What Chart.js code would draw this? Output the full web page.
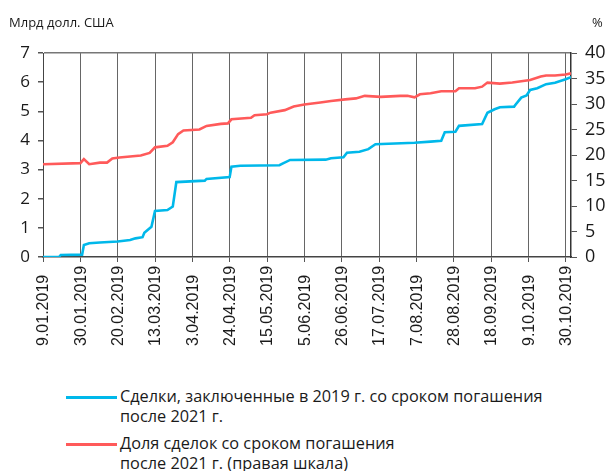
<!DOCTYPE html>
<html>
<head>
<meta charset="utf-8">
<script src="https://cdn.jsdelivr.net/npm/chart.js@4/dist/chart.umd.min.js"></script>
<style>
    body { margin: 0; background: #fff; }
    #wrap { position: relative; width: 606px; height: 471px; font-family: "Open Sans", sans-serif; color: #1a1a1a; }
    #box { position: absolute; left: 0; top: 0; width: 606px; height: 360px; }
    .unit { position: absolute; top: 13px; font-size: 13px; }
    .legend-row { position: absolute; left: 66px; font-size: 16.3px; line-height: 20px; }
    .legend-row .mark { position: absolute; left: 0; top: 10px; width: 51px; height: 3px; }
    .legend-row .txt { position: absolute; left: 54px; top: 0; white-space: nowrap; }
</style>
</head>
<body>
<div id="wrap">
    <div id="box"><canvas id="chart"></canvas></div>
    <div class="unit" style="left: 9px;">Млрд долл. США</div>
    <div class="unit" style="left: 592px;">%</div>
    <div class="legend-row" style="top: 386px;">
        <div class="mark" style="background: #00b8ea;"></div>
        <div class="txt">Сделки, заключенные в 2019 г. со сроком погашения<br>после 2021 г.</div>
    </div>
    <div class="legend-row" style="top: 433px;">
        <div class="mark" style="background: #ff5a5a;"></div>
        <div class="txt">Доля сделок со сроком погашения<br>после 2021 г. (правая шкала)</div>
    </div>
</div>
<script>
// days counted from 9.01.2019
const tickDays = [0, 21, 42, 63, 84, 105, 126, 147, 168, 189, 210, 231, 252, 273, 294];
const tickLabels = ["9.01.2019", "30.01.2019", "20.02.2019", "13.03.2019", "3.04.2019", "24.04.2019", "15.05.2019",
    "5.06.2019", "26.06.2019", "17.07.2019", "7.08.2019", "28.08.2019", "18.09.2019", "9.10.2019", "30.10.2019"];

// deals, bln USD (left axis)
const dealDays = [0, 9, 10, 22, 23, 26, 32, 42, 49, 52, 56, 57, 61, 63, 70, 73, 75, 91, 92, 105,
    106, 111, 133, 135, 139, 159, 162, 169, 171, 178, 183, 187, 209, 218, 224, 226, 232, 234, 247, 250,
    254, 257, 265, 266, 269, 272, 274, 278, 283, 288, 294, 297];
const dealValues = [0, 0, 0.07, 0.08, 0.41, 0.47, 0.50, 0.53, 0.58, 0.64, 0.68, 0.83, 1.04, 1.58, 1.61, 1.73, 2.57, 2.62, 2.68, 2.74,
    3.10, 3.13, 3.15, 3.21, 3.33, 3.34, 3.39, 3.42, 3.58, 3.61, 3.70, 3.87, 3.92, 3.96, 3.99, 4.28, 4.30, 4.50, 4.56, 4.95,
    5.07, 5.14, 5.16, 5.24, 5.47, 5.54, 5.73, 5.79, 5.93, 5.98, 6.10, 6.17];

// share of deals, % (right axis)
const shareDays = [0, 21, 23, 26, 32, 36, 39, 43, 55, 60, 63, 70, 73, 76, 79, 88, 92, 100, 104, 106,
    117, 119, 126, 128, 136, 141, 147, 156, 162, 170, 176, 181, 190, 201, 205, 209, 212, 218, 224, 232,
    234, 243, 247, 250, 257, 264, 274, 280, 283, 288, 294, 297];
const shareValues = [18.2, 18.4, 19.2, 18.2, 18.5, 18.5, 19.3, 19.5, 19.9, 20.4, 21.5, 21.8, 22.5, 24.1, 24.8, 25.0, 25.7, 26.1, 26.2, 27.0,
    27.3, 27.8, 28.0, 28.3, 28.8, 29.5, 29.9, 30.3, 30.6, 30.9, 31.1, 31.6, 31.4, 31.6, 31.6, 31.3, 31.9, 32.1, 32.5, 32.5,
    33.1, 33.1, 33.4, 34.2, 34.0, 34.2, 34.7, 35.4, 35.6, 35.6, 35.8, 36.0];

const data = {
    datasets: [{
        label: "Сделки",
        data: dealDays.map((d, i) => ({x: d, y: dealValues[i]})),
        borderColor: "#00b8ea",
        borderWidth: 2.6,
        pointRadius: 0,
        tension: 0,
        yAxisID: "y",
        order: 1
    }, {
        label: "Доля",
        data: shareDays.map((d, i) => ({x: d, y: shareValues[i]})),
        borderColor: "#ff5a5a",
        borderWidth: 2.6,
        pointRadius: 0,
        tension: 0,
        yAxisID: "y2",
        order: 2
    }]
};

// date labels read upward from a common baseline, so draw them here
const dateLabels = {
    id: "dateLabels",
    afterDraw(chart) {
        const ctx = chart.ctx;
        const xs = chart.scales.x;
        ctx.save();
        ctx.font = '16px "Liberation Sans"';
        ctx.fillStyle = "#1a1a1a";
        ctx.textAlign = "left";
        ctx.textBaseline = "middle";
        tickDays.forEach((d, i) => {
            ctx.save();
            ctx.translate(xs.getPixelForValue(d) + 1, 346);
            ctx.rotate(-Math.PI / 2);
            ctx.fillText(tickLabels[i], 0, 0);
            ctx.restore();
        });
        ctx.restore();
    }
};

const config = {
    type: "line",
    data: data,
    plugins: [dateLabels],
    options: {
        responsive: false,
        animation: false,
        layout: {padding: {top: 53, left: 0, right: 0, bottom: 0}},
        plugins: {legend: {display: false}, tooltip: {enabled: false}},
        scales: {
            x: {
                type: "linear",
                min: 0,
                max: 297,
                afterBuildTicks: (scale) => { scale.ticks = tickDays.map(v => ({value: v})); },
                afterFit: (scale) => { scale.height = 103; },
                ticks: {display: false},
                grid: {color: "#666", lineWidth: 1, tickLength: 5, tickColor: "#555"},
                border: {display: true, color: "#444", width: 1.5}
            },
            y: {
                position: "left",
                min: 0,
                max: 7,
                afterBuildTicks: (scale) => { scale.ticks = [0, 1, 2, 3, 4, 5, 6, 7].map(v => ({value: v})); },
                afterFit: (scale) => { scale.width = 43; },
                ticks: {autoSkip: false, color: "#1a1a1a", font: {family: "Open Sans", size: 17}, padding: 8},
                grid: {
                    color: (c) => c.tick && c.tick.value === 7 ? "#777" : "rgba(0,0,0,0)",
                    lineWidth: 1.5,
                    tickLength: 5,
                    tickColor: "#555"
                },
                border: {display: true, color: "#444", width: 1}
            },
            y2: {
                position: "right",
                min: 0,
                max: 40,
                afterBuildTicks: (scale) => { scale.ticks = [0, 5, 10, 15, 20, 25, 30, 35, 40].map(v => ({value: v})); },
                afterFit: (scale) => { scale.width = 35; },
                ticks: {autoSkip: false, color: "#1a1a1a", font: {family: "Open Sans", size: 18}, padding: 8},
                grid: {drawOnChartArea: false, tickLength: 6, tickColor: "#555"},
                border: {display: true, color: "#333", width: 1.5}
            }
        }
    }
};

const canvas = document.getElementById("chart");
canvas.width = 606;
canvas.height = 360;
const chart = new Chart(canvas, config);
</script>
</body>
</html>
